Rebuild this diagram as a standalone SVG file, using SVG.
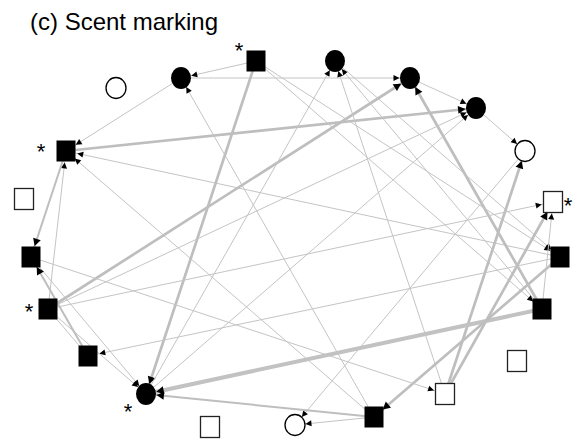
<svg xmlns="http://www.w3.org/2000/svg" width="577" height="444" viewBox="0 0 577 444">
<style>
.e1{stroke:#c4c4c4;stroke-width:1;fill:none}
.e2{stroke:#bebebe;stroke-width:2;fill:none}
.e3{stroke:#bebebe;stroke-width:2.7;fill:none}
.e4{stroke:#c2c2c2;stroke-width:4;fill:none}
.fc{fill:#000}
.oc{fill:#fff;stroke:#000;stroke-width:1.3}
.fs{fill:#000}
.os{fill:#fff;stroke:#222;stroke-width:1.3}
.ast{font-family:"Liberation Sans",Arial,sans-serif;font-size:22px;text-anchor:middle;fill:#000}
.title{font-family:"Liberation Sans",Arial,sans-serif;font-size:24px;fill:#000}
</style>
<defs>
<marker id="tc" markerUnits="userSpaceOnUse" orient="auto" markerWidth="40" markerHeight="20" viewBox="-30 -10 40 20" refX="0" refY="0" overflow="visible"><path d="M-10.5,0 L-16.5,-3 L-16.5,3 Z" fill="#000"/></marker>
<marker id="ts" markerUnits="userSpaceOnUse" orient="auto" markerWidth="40" markerHeight="20" viewBox="-30 -10 40 20" refX="0" refY="0" overflow="visible"><path d="M-11.5,0 L-17.5,-3 L-17.5,3 Z" fill="#000"/></marker>
<marker id="Tc" markerUnits="userSpaceOnUse" orient="auto" markerWidth="40" markerHeight="20" viewBox="-30 -10 40 20" refX="0" refY="0" overflow="visible"><path d="M-10.5,0 L-18,-4 L-18,4 Z" fill="#000"/></marker>
<marker id="Ts" markerUnits="userSpaceOnUse" orient="auto" markerWidth="40" markerHeight="20" viewBox="-30 -10 40 20" refX="0" refY="0" overflow="visible"><path d="M-11.5,0 L-19,-4 L-19,4 Z" fill="#000"/></marker>
</defs>
<text class="title" x="30" y="30">(c) Scent marking</text>
<g id="connectors">
<line class="e1" x1="256" y1="61" x2="181" y2="78" marker-end="url(#tc)"/>
<line class="e1" x1="181" y1="78" x2="410" y2="78" marker-end="url(#tc)"/>
<line class="e1" x1="181" y1="78" x2="66" y2="151" marker-end="url(#ts)"/>
<line class="e3" x1="66" y1="151" x2="476" y2="108" marker-end="url(#Tc)"/>
<line class="e1" x1="560" y1="257" x2="66" y2="151" marker-end="url(#ts)"/>
<line class="e1" x1="48" y1="309" x2="66" y2="151" marker-end="url(#ts)"/>
<line class="e2" x1="66" y1="151" x2="31" y2="257" marker-end="url(#Ts)"/>
<line class="e1" x1="374" y1="417" x2="66" y2="151" marker-end="url(#ts)"/>
<line class="e3" x1="256" y1="61" x2="146" y2="394" marker-end="url(#Tc)"/>
<line class="e1" x1="374" y1="417" x2="181" y2="78" marker-end="url(#tc)"/>
<line class="e3" x1="542" y1="309" x2="410" y2="78" marker-end="url(#Tc)"/>
<line class="e3" x1="48" y1="309" x2="410" y2="78" marker-end="url(#Tc)"/>
<line class="e1" x1="48" y1="309" x2="476" y2="108" marker-end="url(#tc)"/>
<line class="e1" x1="146" y1="394" x2="476" y2="108" marker-end="url(#tc)"/>
<line class="e1" x1="146" y1="394" x2="335" y2="61" marker-end="url(#tc)"/>
<line class="e1" x1="445" y1="394" x2="335" y2="61" marker-end="url(#tc)"/>
<line class="e1" x1="542" y1="309" x2="335" y2="61" marker-end="url(#tc)"/>
<line class="e1" x1="335" y1="61" x2="560" y2="257" marker-end="url(#ts)"/>
<line class="e1" x1="256" y1="61" x2="542" y2="309" marker-end="url(#ts)"/>
<line class="e1" x1="256" y1="61" x2="560" y2="257" marker-end="url(#ts)"/>
<line class="e1" x1="410" y1="78" x2="476" y2="108" marker-end="url(#tc)"/>
<line class="e1" x1="476" y1="108" x2="525" y2="151" marker-end="url(#tc)"/>
<line class="e3" x1="445" y1="394" x2="525" y2="151" marker-end="url(#Tc)"/>
<line class="e1" x1="525" y1="151" x2="295" y2="425" marker-end="url(#tc)"/>
<line class="e1" x1="374" y1="417" x2="295" y2="425" marker-end="url(#tc)"/>
<line class="e2" x1="374" y1="417" x2="146" y2="394" marker-end="url(#Tc)"/>
<line class="e4" x1="542" y1="309" x2="146" y2="394" marker-end="url(#Tc)"/>
<line class="e3" x1="560" y1="257" x2="374" y2="417" marker-end="url(#Ts)"/>
<line class="e1" x1="48" y1="309" x2="553" y2="202" marker-end="url(#ts)"/>
<line class="e3" x1="445" y1="394" x2="553" y2="202" marker-end="url(#Ts)"/>
<line class="e1" x1="542" y1="309" x2="553" y2="202" marker-end="url(#ts)"/>
<line class="e1" x1="560" y1="257" x2="88" y2="356" marker-end="url(#ts)"/>
<line class="e1" x1="31" y1="257" x2="445" y2="394" marker-end="url(#ts)"/>
<line class="e1" x1="31" y1="257" x2="146" y2="394" marker-end="url(#tc)"/>
<line class="e1" x1="48" y1="309" x2="146" y2="394" marker-end="url(#tc)"/>
<line class="e2" x1="88" y1="356" x2="31" y2="257" marker-end="url(#Ts)"/>
<line class="e1" x1="48" y1="309" x2="88" y2="356"/>
</g>
<g id="A"><ellipse class="fc" cx="181" cy="78" rx="10" ry="11"/></g>
<g id="B"><rect class="fs" x="246.5" y="50.5" width="19" height="21"/><text class="ast" x="239" y="57.5">*</text></g>
<g id="C"><ellipse class="oc" cx="116" cy="88" rx="10" ry="10.5"/></g>
<g id="D"><ellipse class="fc" cx="335" cy="61" rx="10" ry="11"/></g>
<g id="E"><ellipse class="fc" cx="410" cy="78" rx="10" ry="11"/></g>
<g id="F"><ellipse class="fc" cx="476" cy="108" rx="10" ry="11"/></g>
<g id="G"><ellipse class="oc" cx="525" cy="151" rx="10" ry="10.5"/></g>
<g id="H"><rect class="os" x="543.5" y="191.5" width="19" height="21"/><text class="ast" x="568" y="212.5">*</text></g>
<g id="I"><rect class="fs" x="550.5" y="246.5" width="19" height="21"/></g>
<g id="J"><rect class="fs" x="532.5" y="298.5" width="19" height="21"/></g>
<g id="K"><rect class="os" x="507.5" y="350.5" width="19" height="21"/></g>
<g id="L"><rect class="os" x="435.5" y="383.5" width="19" height="21"/></g>
<g id="M"><rect class="fs" x="364.5" y="406.5" width="19" height="21"/></g>
<g id="N"><ellipse class="oc" cx="295" cy="425" rx="10" ry="10.5"/></g>
<g id="O"><rect class="os" x="200.5" y="416.5" width="19" height="21"/></g>
<g id="P"><ellipse class="fc" cx="146" cy="394" rx="10" ry="11"/><text class="ast" x="128" y="418.5">*</text></g>
<g id="Q"><rect class="fs" x="78.5" y="345.5" width="19" height="21"/></g>
<g id="R"><rect class="fs" x="38.5" y="298.5" width="19" height="21"/><text class="ast" x="29" y="318.5">*</text></g>
<g id="S"><rect class="fs" x="21.5" y="246.5" width="19" height="21"/></g>
<g id="T"><rect class="os" x="14.5" y="188.5" width="19" height="21"/></g>
<g id="U"><rect class="fs" x="56.5" y="140.5" width="19" height="21"/><text class="ast" x="41" y="158.5">*</text></g>
</svg>
